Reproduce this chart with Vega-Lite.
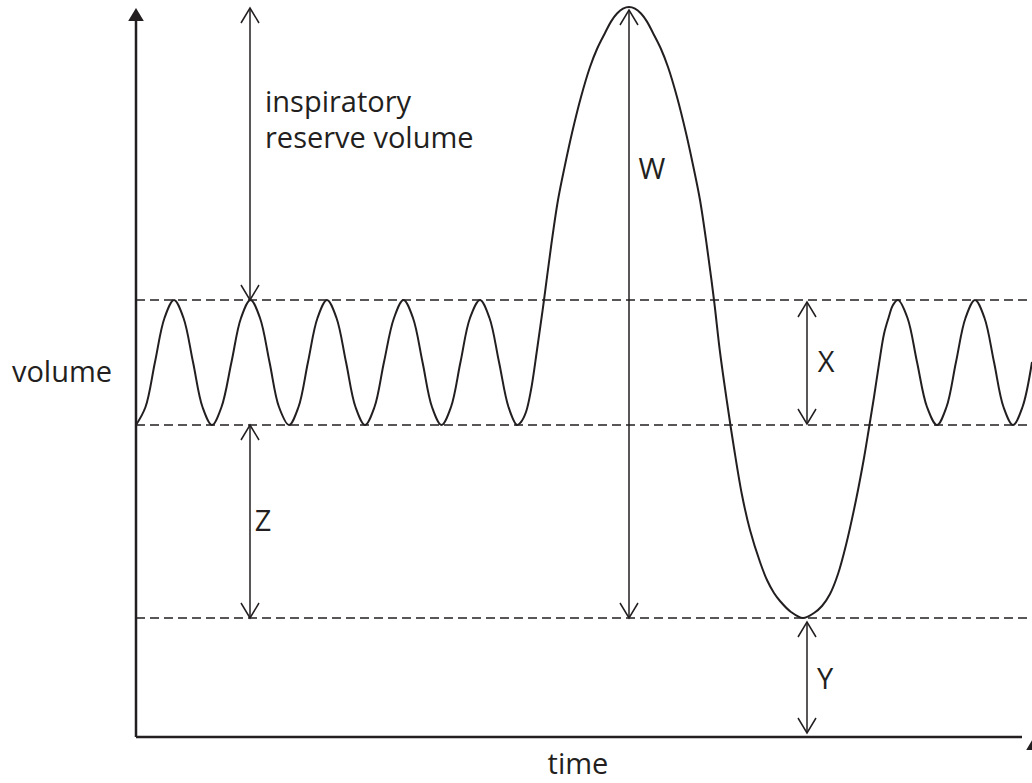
{
  "$schema": "https://vega.github.io/schema/vega-lite/v6.json",
  "width": 1032,
  "height": 783,
  "autosize": {"type": "none"},
  "padding": 0,
  "background": "white",
  "config": {"view": {"stroke": null}},
  "datasets": {
    "curve": [
      {"t": 0, "v": 312}, {"t": 9.5, "v": 330}, {"t": 19, "v": 375}, {"t": 28.5, "v": 419}, {"t": 38, "v": 437},
      {"t": 47.5, "v": 419}, {"t": 57, "v": 375}, {"t": 66.5, "v": 330}, {"t": 76, "v": 312},
      {"t": 85.5, "v": 330}, {"t": 95.5, "v": 375}, {"t": 105, "v": 419}, {"t": 114.5, "v": 437},
      {"t": 124, "v": 419}, {"t": 133.5, "v": 375}, {"t": 143, "v": 330}, {"t": 153, "v": 312},
      {"t": 162.5, "v": 330}, {"t": 172, "v": 375}, {"t": 181.5, "v": 419}, {"t": 191, "v": 437},
      {"t": 200.5, "v": 419}, {"t": 210, "v": 375}, {"t": 219.5, "v": 330}, {"t": 229, "v": 312},
      {"t": 238.5, "v": 330}, {"t": 248, "v": 375}, {"t": 258, "v": 419}, {"t": 267.5, "v": 437},
      {"t": 277, "v": 419}, {"t": 286.5, "v": 375}, {"t": 296, "v": 330}, {"t": 305.5, "v": 312},
      {"t": 315, "v": 330}, {"t": 324.5, "v": 375}, {"t": 334, "v": 419}, {"t": 344, "v": 437},
      {"t": 353.5, "v": 419}, {"t": 363, "v": 375}, {"t": 372.5, "v": 330}, {"t": 381, "v": 312},
      {"t": 385, "v": 315}, {"t": 390, "v": 325}, {"t": 395, "v": 347}, {"t": 401, "v": 387}, {"t": 408, "v": 437},
      {"t": 415, "v": 490}, {"t": 422, "v": 537}, {"t": 429, "v": 572}, {"t": 436, "v": 604},
      {"t": 445, "v": 640}, {"t": 454, "v": 670}, {"t": 461, "v": 688}, {"t": 469, "v": 704},
      {"t": 475, "v": 715.4}, {"t": 481, "v": 723.5}, {"t": 487, "v": 728.4}, {"t": 493, "v": 730},
      {"t": 499, "v": 728.4}, {"t": 505, "v": 723.5}, {"t": 511, "v": 715.4}, {"t": 517, "v": 704},
      {"t": 525, "v": 688}, {"t": 532, "v": 670}, {"t": 541, "v": 640}, {"t": 550, "v": 604},
      {"t": 557, "v": 572}, {"t": 564, "v": 537}, {"t": 571, "v": 490}, {"t": 578, "v": 437},
      {"t": 584, "v": 385}, {"t": 591, "v": 335}, {"t": 598, "v": 289}, {"t": 606, "v": 242},
      {"t": 614, "v": 207}, {"t": 624, "v": 175}, {"t": 631, "v": 157}, {"t": 638, "v": 144},
      {"t": 644, "v": 136}, {"t": 655, "v": 125}, {"t": 667, "v": 119},
      {"t": 678, "v": 124}, {"t": 686, "v": 131}, {"t": 694, "v": 143}, {"t": 702, "v": 163}, {"t": 710, "v": 192},
      {"t": 720, "v": 237}, {"t": 728, "v": 279}, {"t": 733, "v": 309}, {"t": 738, "v": 340},
      {"t": 743, "v": 373}, {"t": 748, "v": 403}, {"t": 752.5, "v": 419}, {"t": 757, "v": 432}, {"t": 762, "v": 437},
      {"t": 771.5, "v": 419}, {"t": 781, "v": 375}, {"t": 791, "v": 330}, {"t": 801, "v": 312},
      {"t": 810.5, "v": 330}, {"t": 820, "v": 375}, {"t": 829.5, "v": 419}, {"t": 839, "v": 437},
      {"t": 848.5, "v": 419}, {"t": 858, "v": 375}, {"t": 867.5, "v": 330}, {"t": 877, "v": 312},
      {"t": 886.5, "v": 330}, {"t": 896, "v": 375}
    ],
    "guides": [
      {"t": 0, "t2": 896, "v": 437},
      {"t": 0, "t2": 896, "v": 312},
      {"t": 0, "t2": 896, "v": 119}
    ],
    "axes": [
      {"t": 0, "t2": 0, "v": 0, "v2": 718},
      {"t": 0, "t2": 886, "v": 0, "v2": 0}
    ],
    "arrows": [
      {"t": 114, "t2": 114, "v": 437, "v2": 729},
      {"t": 493, "t2": 493, "v": 119, "v2": 727},
      {"t": 671, "t2": 671, "v": 313, "v2": 435},
      {"t": 114, "t2": 114, "v": 119, "v2": 312},
      {"t": 671, "t2": 671, "v": 4, "v2": 115}
    ],
    "heads": [
      {"t": 114, "v": 729, "dir": "up"}, {"t": 114, "v": 437, "dir": "down"},
      {"t": 493, "v": 727, "dir": "up"}, {"t": 493, "v": 119, "dir": "down"},
      {"t": 671, "v": 435, "dir": "up"}, {"t": 671, "v": 313, "dir": "down"},
      {"t": 114, "v": 312, "dir": "up"}, {"t": 114, "v": 119, "dir": "down"},
      {"t": 671, "v": 115, "dir": "up"}, {"t": 671, "v": 4, "dir": "down"}
    ],
    "axisheads": [
      {"t": 0, "v": 729, "dir": "up"},
      {"t": 898, "v": 0, "dir": "right"}
    ],
    "labels": [
      {"t": -74, "v": 364, "text": "volume"},
      {"t": 442, "v": -28, "text": "time"},
      {"t": 516, "v": 567, "text": "W"},
      {"t": 690, "v": 374, "text": "X"},
      {"t": 689, "v": 57, "text": "Y"},
      {"t": 127, "v": 215, "text": "Z"}
    ],
    "irv": [
      {"t": 129, "v": 625, "text": "inspiratory"},
      {"t": 129, "v": 589, "text": "reserve volume"}
    ]
  },
  "encoding": {
    "x": {"field": "t", "type": "quantitative", "scale": {"domain": [-136, 896], "nice": false, "zero": false}, "axis": null},
    "y": {"field": "v", "type": "quantitative", "scale": {"domain": [-46, 737], "nice": false, "zero": false}, "axis": null}
  },
  "layer": [
    {
      "data": {"name": "guides"},
      "mark": {"type": "rule", "color": "#231f20", "strokeWidth": 1.5, "strokeDash": [9, 5]},
      "encoding": {"x2": {"field": "t2"}}
    },
    {
      "data": {"name": "axes"},
      "mark": {"type": "rule", "color": "#231f20", "strokeWidth": 2.5},
      "encoding": {"x2": {"field": "t2"}, "y2": {"field": "v2"}}
    },
    {
      "data": {"name": "arrows"},
      "mark": {"type": "rule", "color": "#231f20", "strokeWidth": 1.5},
      "encoding": {"x2": {"field": "t2"}, "y2": {"field": "v2"}}
    },
    {
      "data": {"name": "curve"},
      "mark": {"type": "line", "color": "#231f20", "strokeWidth": 2, "interpolate": "catmull-rom"},
      "encoding": {}
    },
    {
      "data": {"name": "heads"},
      "mark": {"type": "point", "filled": false, "stroke": "#231f20", "strokeWidth": 1.5, "opacity": 1, "size": 900},
      "encoding": {
        "shape": {"field": "dir", "type": "nominal", "legend": null,
          "scale": {"domain": ["up", "down"], "range": ["M-0.6,1L0,0L0.6,1", "M-0.6,-1L0,0L0.6,-1"]}}
      }
    },
    {
      "data": {"name": "axisheads"},
      "mark": {"type": "point", "filled": true, "fill": "#231f20", "strokeWidth": 0, "opacity": 1, "size": 676},
      "encoding": {
        "shape": {"field": "dir", "type": "nominal", "legend": null,
          "scale": {"domain": ["up", "right"], "range": ["M-0.58,1L0,0L0.58,1Z", "M-1,-0.58L0,0L-1,0.58Z"]}}
      }
    },
    {
      "data": {"name": "labels"},
      "mark": {"type": "text", "font": "Open Sans", "fontSize": 29, "color": "#231f20", "align": "center", "baseline": "middle"},
      "encoding": {"text": {"field": "text"}}
    },
    {
      "data": {"name": "irv"},
      "mark": {"type": "text", "font": "Open Sans", "fontSize": 29, "color": "#231f20", "align": "left", "baseline": "alphabetic"},
      "encoding": {"text": {"field": "text"}}
    }
  ]
}
